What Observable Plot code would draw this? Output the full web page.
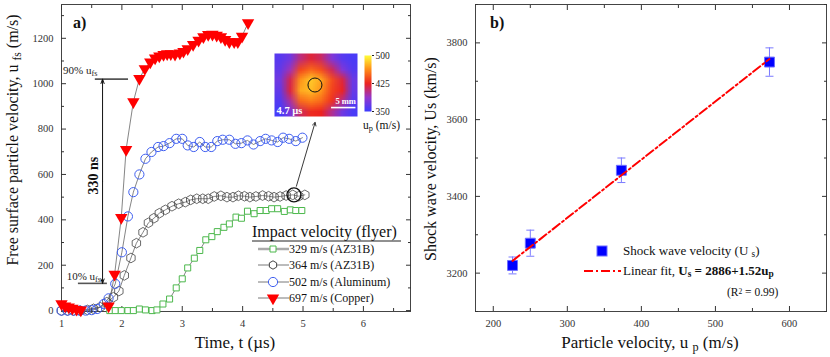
<!DOCTYPE html>
<html><head><meta charset="utf-8">
<script src="https://cdn.jsdelivr.net/npm/d3@7"></script>
<script src="https://cdn.jsdelivr.net/npm/@observablehq/plot@0.6"></script>
<style>
body{margin:0;background:#fff;}
#wrap{position:relative;width:830px;height:357px;font-family:"Liberation Serif",serif;overflow:hidden;}
#wrap > *{position:absolute;}
</style></head><body><div id="wrap"></div>
<script>
// ---------------- Panel a) data ----------------
const t329 = [1.80,1.89,1.99,2.10,2.19,2.29,2.39,2.50,2.58,2.68,2.79,2.90,3.00,3.09,3.20,3.29,3.39,3.49,3.58,3.69,3.78,3.89,3.98,4.08,4.19,4.29,4.39,4.48,4.58,4.69,4.79,4.88,4.98];
const v329 = [0,0,0,0,0,7,3,0,3,29,51,100,140,188,231,265,312,326,348,367,382,412,407,438,427,441,441,449,449,437,444,441,441];
const t364 = [1.00,1.10,1.20,1.31,1.43,1.53,1.64,1.75,1.86,1.95,2.04,2.15,2.24,2.35,2.44,2.53,2.62,2.72,2.83,2.94,3.05,3.14,3.24,3.34,3.43,3.53,3.64,3.74,3.84,3.93,4.03,4.12,4.22,4.33,4.43,4.52,4.62,4.72,4.83,4.93,5.03];
const v364 = [0,0,0,0,3,8,15,37,59,86,155,232,297,345,387,407,429,444,460,471,478,488,493,493,493,503,506,500,500,506,504,500,503,507,504,500,503,507,510,504,510];
const t502 = [1.00,1.10,1.20,1.30,1.40,1.50,1.59,1.70,1.78,1.89,2.00,2.10,2.19,2.29,2.39,2.49,2.60,2.69,2.79,2.90,3.00,3.09,3.19,3.29,3.38,3.48,3.58,3.67,3.78,3.88,3.98,4.08,4.18,4.29,4.38,4.48,4.58,4.67,4.77,4.88,4.99];
const v502 = [0,0,0,0,0,2,7,29,54,118,257,415,522,600,669,699,721,725,738,757,757,728,721,743,721,721,747,753,753,735,738,750,732,747,757,750,743,762,757,747,762];
const t697 = [1.00,1.06,1.12,1.18,1.25,1.32,1.78,1.88,1.99,2.07,2.19,2.29,2.38,2.47,2.55,2.62,2.69,2.75,2.81,2.88,2.96,3.02,3.09,3.18,3.27,3.35,3.43,3.50,3.57,3.64,3.71,3.78,3.86,3.92,3.99,4.09];
const v697 = [30,20,15,10,5,2,20,160,410,710,920,1022,1066,1095,1113,1122,1128,1132,1132,1129,1135,1142,1154,1172,1191,1206,1216,1217,1213,1206,1194,1184,1184,1184,1209,1268];
const legendA = ["329 m/s (AZ31B)","364 m/s (AZ31B)","502 m/s (Aluminum)","697 m/s (Copper)"];
const ticksTime = [1,2,3,4,5,6];
const minorTime = [1.5,2.5,3.5,4.5,5.5,6.5];
const ticksUfs = [0,200,400,600,800,1000,1200];
const minorUfs = [100,300,500,700,900,1100,1300];
// annotations (data units)
const lvl90 = 1020, lvl10 = 120;
const span90 = [1.56, 2.11], span10 = [1.28, 1.76];
const riseT = 1.68, riseMid = 570;
const markT = 4.85, markV = 510;
const pointerFrom = [4.89, 548], pointerTo = [5.2, 829];
// inset heat map (u_p, m/s), rows top to bottom
const insetCols = 8, insetRows = 6;
const insetGrid = [
  362,372,405,420,410,380,362,356,
  366,392,438,450,440,412,380,360,
  372,415,465,482,470,440,418,370,
  366,418,472,478,464,436,424,368,
  360,398,450,458,450,430,402,362,
  354,375,412,428,425,400,372,356
];
const insetTicks = [350,425,500];
// ---------------- Panel b) data ----------------
const upB = [226, 250, 373, 573];
const usB = [3220, 3278, 3468, 3750];
const errB = [22, 34, 32, 37];
const fitUp = [226, 573];
const fitUs = [3232, 3758];
const ticksUp = [200,300,400,500,600];
const minorUp = [250,350,450,550];
const ticksUs = [3200,3400,3600,3800];
const minorUs = [3100,3300,3500,3700,3900];

const FONT = "Liberation Serif";
const wrap = document.getElementById("wrap");
const zip = (ts, vs) => ts.map((t, i) => ({t, v: vs[i]}));

function frameAxes(xMajor, xMinor, yMajor, yMinor, yPad) {
  const blank = () => "";
  const c = {color: "#333", label: null, fontSize: 10.5};
  return [
    Plot.frame({stroke: "#444", strokeWidth: 1}),
    Plot.axisX(xMajor, {...c, anchor: "bottom", tickSize: -5, tickPadding: 13, tickFormat: d => String(d)}),
    Plot.axisX(xMinor, {...c, anchor: "bottom", tickSize: -3, tickFormat: blank}),
    Plot.axisX(xMajor, {...c, anchor: "top", tickSize: -5, tickFormat: blank}),
    Plot.axisX(xMinor, {...c, anchor: "top", tickSize: -3, tickFormat: blank}),
    Plot.axisY(yMajor, {...c, anchor: "left", tickSize: -5, tickPadding: yPad, tickFormat: d => String(d)}),
    Plot.axisY(yMinor, {...c, anchor: "left", tickSize: -3, tickFormat: blank}),
    Plot.axisY(yMajor, {...c, anchor: "right", tickSize: -5, tickFormat: blank}),
    Plot.axisY(yMinor, {...c, anchor: "right", tickSize: -3, tickFormat: blank})
  ];
}

// ---------------- Panel a ----------------
const s329 = zip(t329, v329), s364 = zip(t364, v364), s502 = zip(t502, v502), s697 = zip(t697, v697);
const lineOpt = {x: "t", y: "v", stroke: "#666", strokeWidth: 0.8};
const left = Plot.plot({
  width: 415, height: 357, marginLeft: 61, marginRight: 5, marginTop: 4, marginBottom: 46,
  x: {domain: [1, 6.78]}, y: {domain: [-4, 1349]},
  style: {fontFamily: FONT, background: "transparent", overflow: "visible"},
  marks: [
    ...frameAxes(ticksTime, minorTime, ticksUfs, minorUfs, 13),
    Plot.line(s329, lineOpt),
    Plot.line(s364, lineOpt),
    Plot.line(s502, lineOpt),
    Plot.line(s697, lineOpt),
    Plot.dot(s329, {x: "t", y: "v", symbol: "square", r: 3.4, stroke: "#4cb84c", fill: "white", strokeWidth: 1}),
    Plot.dot(s364, {x: "t", y: "v", symbol: "hexagon", r: 4.2, stroke: "#444", fill: "none", strokeWidth: 0.8}),
    Plot.dot(s502, {x: "t", y: "v", symbol: "circle", r: 4.6, stroke: "#3f5ff0", fill: "none", strokeWidth: 1}),
    Plot.dot(s697, {x: "t", y: "v", symbol: "triangle", rotate: 180, r: 4.6, fill: "#ff0000", stroke: "none"}),
    // rise-time annotation
    Plot.ruleY([lvl90], {x1: span90[0], x2: span90[1], stroke: "#555", strokeWidth: 1.6}),
    Plot.ruleY([lvl10], {x1: span10[0], x2: span10[1], stroke: "#555", strokeWidth: 1.6}),
    Plot.arrow([{a: riseMid, b: lvl90}, {a: riseMid, b: lvl10}], {x: riseT, y1: "a", y2: "b", stroke: "#111", strokeWidth: 1, headLength: 7, headAngle: 40}),
    Plot.text([{t: 1.53, v: 595}], {x: "t", y: "v", text: () => "330 ns", rotate: -90, fontWeight: "bold", fontSize: 14, fill: "#111"}),
    Plot.text([{t: 1.31, v: 1060}], {x: "t", y: "v", text: () => "90% u_{fs}", fontSize: 11, fill: "#222"}),
    Plot.text([{t: 1.37, v: 152}], {x: "t", y: "v", text: () => "10% u_{fs}", fontSize: 11, fill: "#222"}),
    // highlighted point and pointer to inset
    Plot.dot([{t: markT, v: markV}], {x: "t", y: "v", r: 7, stroke: "#111", strokeWidth: 1.4, fill: "none"}),
    Plot.arrow([{x1: pointerFrom[0], y1: pointerFrom[1], x2: pointerTo[0], y2: pointerTo[1]}], {x1: "x1", y1: "y1", x2: "x2", y2: "y2", stroke: "#222", strokeWidth: 0.9, headLength: 6})
  ]
});
left.style.left = "0px"; left.style.top = "0px";
wrap.appendChild(left);

// inset heat map
const heatColor = {type: "linear", domain: [350, 387.5, 425, 462.5, 500], range: ["#3c3cff", "#9436cc", "#ec2320", "#ff8c18", "#ffff38"]};
const inset = Plot.plot({
  width: 83, height: 63, margin: 0,
  x: {domain: [0, insetCols], axis: null}, y: {domain: [insetRows, 0], axis: null},
  color: heatColor,
  style: {background: "transparent", overflow: "visible", fontFamily: FONT},
  marks: [
    Plot.raster(insetGrid, {width: insetCols, height: insetRows, x1: 0, y1: 0, x2: insetCols, y2: insetRows, fill: d => d}),
    Plot.dot([{x: 3.9, y: 3.0}], {x: "x", y: "y", r: 7, stroke: "#111", fill: "none", strokeWidth: 1}),
    Plot.text(["4.7 µs"], {x: 0.2, y: 5.45, text: d => d, textAnchor: "start", fill: "white", fontWeight: "bold", fontSize: 10.5}),
    Plot.text(["5 mm"], {x: 7.85, y: 4.55, text: d => d, textAnchor: "end", fill: "white", fontWeight: "bold", fontSize: 8.5}),
    Plot.ruleY([5.15], {x1: 5.5, x2: 7.85, stroke: "white", strokeWidth: 1.6})
  ]
});
inset.style.left = "274px"; inset.style.top = "53px";
wrap.appendChild(inset);

const cbar = Plot.plot({
  width: 40, height: 56, marginLeft: 0, marginRight: 33, marginTop: 0, marginBottom: 0,
  x: {domain: [0, 1], axis: null}, y: {domain: [350, 500]},
  color: heatColor,
  style: {background: "transparent", overflow: "visible", fontFamily: FONT},
  marks: [
    Plot.raster({fill: (x, y) => y, x1: 0, x2: 1, y1: 350, y2: 500, width: 1, height: 60}),
    Plot.axisY(insetTicks, {anchor: "right", tickSize: 2, tickPadding: 2, fontSize: 9.5, color: "#222", label: null})
  ]
});
cbar.style.left = "364px"; cbar.style.top = "55px";
wrap.appendChild(cbar);

// ---------------- Panel b ----------------
const pts = upB.map((u, i) => ({u, s: usB[i], lo: usB[i] - errB[i], hi: usB[i] + errB[i]}));
const fit = fitUp.map((u, i) => ({u, s: fitUs[i]}));
const capSymbol = {draw(ctx, size) { const w = Math.sqrt(size / Math.PI); ctx.moveTo(-w, 0); ctx.lineTo(w, 0); }};
const right = Plot.plot({
  width: 415, height: 357, marginLeft: 60, marginRight: 4, marginTop: 4, marginBottom: 46,
  x: {domain: [176, 650]}, y: {domain: [3100, 3900]},
  style: {fontFamily: FONT, background: "transparent", overflow: "visible"},
  marks: [
    ...frameAxes(ticksUp, minorUp, ticksUs, minorUs, 13),
    Plot.ruleX(pts, {x: "u", y1: "lo", y2: "hi", stroke: "#7a7aff", strokeWidth: 1}),
    Plot.dot(pts, {x: "u", y: "lo", symbol: capSymbol, r: 4, stroke: "#7a7aff", strokeWidth: 1}),
    Plot.dot(pts, {x: "u", y: "hi", symbol: capSymbol, r: 4, stroke: "#7a7aff", strokeWidth: 1}),
    Plot.dot(pts, {x: "u", y: "s", symbol: "square", r: 5.6, fill: "#0000ff", stroke: "#6d6dff", strokeWidth: 1}),
    Plot.line(fit, {x: "u", y: "s", stroke: "#ff0000", strokeWidth: 2, strokeDasharray: "9,3,2,3"})
  ]
});
right.style.left = "415px"; right.style.top = "0px";
wrap.appendChild(right);

// subscript helper for Plot texts
function subify(svg) {
  svg.querySelectorAll("text").forEach(t => {
    if (t.children.length === 0 && t.textContent.includes("_{")) {
      t.innerHTML = t.textContent.replace(/_\{([^}]*)\}/g, '<tspan baseline-shift="-25%" font-size="75%">$1</tspan>');
    }
  });
}
subify(left);

// ---------------- overlay: titles and legends ----------------
const ov = d3.select(wrap).append("svg").attr("width", 830).attr("height", 357)
  .style("left", "0px").style("top", "0px").style("pointer-events", "none")
  .attr("font-family", FONT).attr("fill", "#111");

function rich(sel, parts) {
  parts.forEach(p => {
    const ts = sel.append("tspan").text(p.t);
    if (p.sub) ts.attr("baseline-shift", "-25%").attr("font-size", "72%");
    if (p.sup) ts.attr("baseline-shift", "35%").attr("font-size", "65%");
    if (p.b) ts.attr("font-weight", "bold");
  });
  return sel;
}
// axis titles
rich(ov.append("text").attr("x", 235).attr("y", 348).attr("text-anchor", "middle").attr("font-size", 17),
  [{t: "Time, t (µs)"}]);
rich(ov.append("text").attr("transform", "translate(18,140) rotate(-90)").attr("text-anchor", "middle").attr("font-size", 16),
  [{t: "Free surface particle velocity, u "}, {t: "fs", sub: true}, {t: " (m/s)"}]);
rich(ov.append("text").attr("x", 650).attr("y", 348).attr("text-anchor", "middle").attr("font-size", 17),
  [{t: "Particle velocity, u "}, {t: "p", sub: true}, {t: " (m/s)"}]);
rich(ov.append("text").attr("transform", "translate(436,159) rotate(-90)").attr("text-anchor", "middle").attr("font-size", 16),
  [{t: "Shock wave velocity, Us (km/s)"}]);
// panel letters
ov.append("text").attr("x", 73).attr("y", 28).attr("font-size", 16).attr("font-weight", "bold").text("a)");
ov.append("text").attr("x", 490).attr("y", 28).attr("font-size", 16).attr("font-weight", "bold").text("b)");
// inset unit label
rich(ov.append("text").attr("x", 363).attr("y", 129).attr("font-size", 11.5),
  [{t: "u"}, {t: "p", sub: true}, {t: " (m/s)"}]);

// legend a
ov.append("text").attr("x", 252).attr("y", 237).attr("font-size", 16).text("Impact velocity (flyer)");
ov.append("line").attr("x1", 252).attr("x2", 401).attr("y1", 241).attr("y2", 241).attr("stroke", "#222").attr("stroke-width", 1);
const rowsY = [249, 265, 282, 298];
const legSty = [
  {line: "#aaa", lw: 2.5, path: d3.symbol(d3.symbolSquare, 36)(), fill: "white", stroke: "#4cb84c", rot: 0},
  {line: "#555", lw: 0.8, path: null, hex: true, fill: "white", stroke: "#444", rot: 0},
  {line: "#555", lw: 0.8, path: d3.symbol(d3.symbolCircle, Math.PI * 4.6 * 4.6)(), fill: "white", stroke: "#3f5ff0", rot: 0},
  {line: "#555", lw: 0.8, path: d3.symbol(d3.symbolTriangle, Math.PI * 4.6 * 4.6)(), fill: "#ff0000", stroke: "none", rot: 180}
];
legendA.forEach((lab, i) => {
  const y = rowsY[i], s = legSty[i];
  ov.append("line").attr("x1", 258).attr("x2", 289).attr("y1", y).attr("y2", y).attr("stroke", s.line).attr("stroke-width", s.lw);
  let p = s.path;
  if (s.hex) { const r = 4.2; p = "M" + d3.range(6).map(k => [r * Math.sin(k * Math.PI / 3), -r * Math.cos(k * Math.PI / 3)].join(",")).join("L") + "Z"; }
  ov.append("path").attr("d", p).attr("transform", `translate(273,${y}) rotate(${s.rot})`).attr("fill", s.fill).attr("stroke", s.stroke).attr("stroke-width", 1);
  ov.append("text").attr("x", 289).attr("y", y + 4).attr("font-size", 12).text(lab);
});

// legend b
ov.append("rect").attr("x", 597).attr("y", 246).attr("width", 10).attr("height", 10).attr("fill", "#0000ff").attr("stroke", "#6d6dff");
rich(ov.append("text").attr("x", 623).attr("y", 255).attr("font-size", 13),
  [{t: "Shock wave velocity (U "}, {t: "s", sub: true}, {t: ")"}]);
ov.append("line").attr("x1", 584).attr("x2", 621).attr("y1", 271).attr("y2", 271).attr("stroke", "#ff0000").attr("stroke-width", 2).attr("stroke-dasharray", "9,3,2,3");
rich(ov.append("text").attr("x", 623).attr("y", 275).attr("font-size", 13),
  [{t: "Linear fit, "}, {t: "U", b: true}, {t: "s", b: true, sub: true}, {t: " = 2886+1.52u", b: true}, {t: "p", b: true, sub: true}]);
rich(ov.append("text").attr("x", 727).attr("y", 296).attr("font-size", 11.5),
  [{t: "(R"}, {t: "2", sup: true}, {t: " = 0.99)"}]);
</script></body></html>
